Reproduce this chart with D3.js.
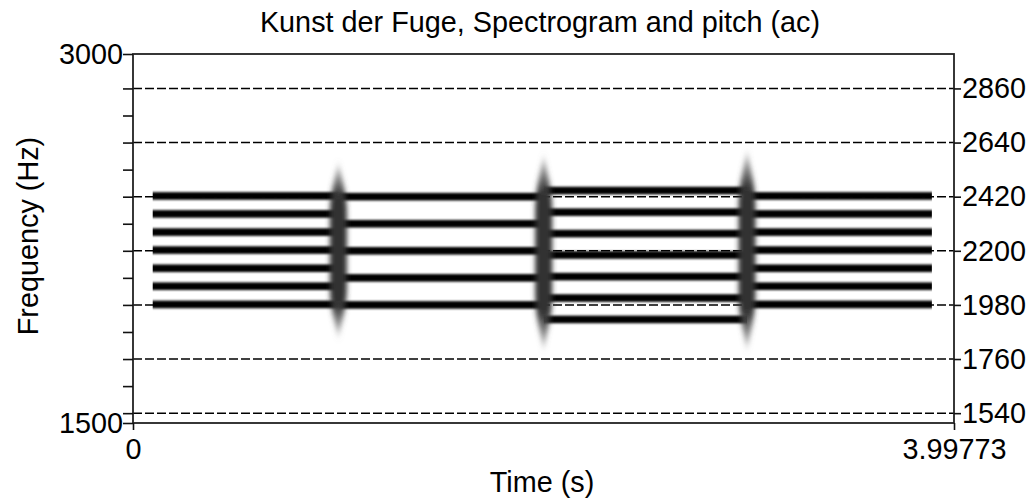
<!DOCTYPE html>
<html><head><meta charset="utf-8">
<script src="https://cdn.jsdelivr.net/npm/d3@7"></script>
<style>body{margin:0;background:#fff}svg{display:block}</style></head>
<body><svg id="c" width="1032" height="504"></svg>
<script>
// ---- data ----
const titleText = "Kunst der Fuge, Spectrogram and pitch (ac)";
const xLabel = "Time (s)";
const yLabel = "Frequency (Hz)";
const timeDomain = [0, 3.99773];
const freqDomain = [1500, 3000];
const segmentStart = [0.096, 1.0, 2.0, 2.99];
const segmentEnd = [1.0, 2.0, 2.99, 3.89];
const segment1Bands = [1982, 2056, 2129, 2203, 2276, 2350, 2423];
const segment2Bands = [1980, 2090, 2200, 2310, 2420];
const segment3Bands = [1921, 2008, 2095, 2183, 2270, 2357, 2445];
const segment4Bands = [1982, 2056, 2129, 2203, 2276, 2350, 2423];
const transitionTimes = [1.0, 2.0, 2.99];
const transitionTop = [2550, 2580, 2600];
const transitionBottom = [1855, 1805, 1805];
const rightTickValues = [1540, 1760, 1980, 2200, 2420, 2640, 2860];
const leftMinorTickValues = [1540, 1650, 1760, 1870, 1980, 2090, 2200, 2310, 2420, 2530, 2640, 2750, 2860];
const leftLabelValues = [1500, 3000];
const bottomTickValues = [0, 3.99773];
const bottomTickLabels = ["0", "3.99773"];

// ---- drawing ----
const svg = d3.select("#c");
const FONT = "'Liberation Sans', Arial, sans-serif";
const FS = 28.8;
const L = 133, R = 954, T = 54, B = 423;
const x = d3.scaleLinear().domain(timeDomain).range([L, R]);
const y = d3.scaleLinear().domain(freqDomain).range([B, T]);

const defs = svg.append("defs");
defs.append("filter").attr("id", "blurBand").attr("x", "-5%").attr("y", "-100%").attr("width", "110%").attr("height", "300%")
  .append("feGaussianBlur").attr("stdDeviation", "0.7 1.0");
defs.append("filter").attr("id", "blurSmear").attr("x", "-200%").attr("y", "-20%").attr("width", "500%").attr("height", "140%")
  .append("feGaussianBlur").attr("stdDeviation", "2.4 5");
const grad = defs.append("linearGradient").attr("id", "smearGrad").attr("x1", 0).attr("y1", 0).attr("x2", 0).attr("y2", 1);
grad.append("stop").attr("offset", "0%").attr("stop-color", "#888").attr("stop-opacity", 0.6);
grad.append("stop").attr("offset", "18%").attr("stop-color", "#333").attr("stop-opacity", 1);
grad.append("stop").attr("offset", "82%").attr("stop-color", "#333").attr("stop-opacity", 1);
grad.append("stop").attr("offset", "100%").attr("stop-color", "#888").attr("stop-opacity", 0.6);

// dashed reference lines
svg.append("g").selectAll("line").data(rightTickValues).join("line")
  .attr("x1", L).attr("x2", R).attr("y1", d => y(d)).attr("y2", d => y(d))
  .attr("stroke", "#000").attr("stroke-width", 1.5).attr("stroke-dasharray", "9,3");

// spectrogram bands
const segBands = [segment1Bands, segment2Bands, segment3Bands, segment4Bands];
const bandData = [];
segBands.forEach((arr, i) => arr.forEach(f => bandData.push({t0: segmentStart[i], t1: segmentEnd[i], f})));
svg.append("g").attr("filter", "url(#blurBand)").selectAll("rect").data(bandData).join("rect")
  .attr("x", d => x(d.t0)).attr("width", d => x(d.t1) - x(d.t0))
  .attr("y", d => y(d.f) - 3.8).attr("height", 7.6).attr("fill", "#000");

// transition smears
const smear = svg.append("g").attr("filter", "url(#blurSmear)");
transitionTimes.forEach((t, i) => {
  const cx = x(t), y0 = y(transitionTop[i]), y1 = y(transitionBottom[i]);
  const h = y1 - y0, w = 8.5;
  const p = d3.path();
  p.moveTo(cx, y0);
  p.bezierCurveTo(cx + 3, y0 + h * 0.08, cx + w, y0 + h * 0.16, cx + w, y0 + h * 0.28);
  p.lineTo(cx + w, y0 + h * 0.72);
  p.bezierCurveTo(cx + w, y0 + h * 0.84, cx + 3, y0 + h * 0.92, cx, y1);
  p.bezierCurveTo(cx - 3, y0 + h * 0.92, cx - w, y0 + h * 0.84, cx - w, y0 + h * 0.72);
  p.lineTo(cx - w, y0 + h * 0.28);
  p.bezierCurveTo(cx - w, y0 + h * 0.16, cx - 3, y0 + h * 0.08, cx, y0);
  p.closePath();
  smear.append("path").attr("d", p.toString()).attr("fill", "url(#smearGrad)");
});

// frame
svg.append("rect").attr("x", L).attr("y", T).attr("width", R - L).attr("height", B - T)
  .attr("fill", "none").attr("stroke", "#222").attr("stroke-width", 1.8);

function styleAxis(g) {
  g.select(".domain").remove();
  g.selectAll("line").attr("stroke", "#111").attr("stroke-width", 1.6);
  g.selectAll("text").attr("font-family", FONT).attr("font-size", FS).attr("fill", "#000");
}
// left minor ticks
svg.append("g").attr("transform", `translate(${L},0)`)
  .call(d3.axisLeft(y).tickValues(leftMinorTickValues).tickSize(10).tickFormat(""))
  .call(styleAxis);
// left labelled ticks
svg.append("g").attr("transform", `translate(${L},0)`)
  .call(d3.axisLeft(y).tickValues(leftLabelValues).tickSize(10).tickPadding(0).tickFormat(d3.format("d")))
  .call(styleAxis);
// right ticks
svg.append("g").attr("transform", `translate(${R},0)`)
  .call(d3.axisRight(y).tickValues(rightTickValues).tickSize(7).tickPadding(1).tickFormat(d3.format("d")))
  .call(styleAxis);
// bottom ticks
svg.append("g").attr("transform", `translate(0,${B})`)
  .call(d3.axisBottom(x).tickValues(bottomTickValues).tickSize(7).tickPadding(9)
    .tickFormat((d, i) => bottomTickLabels[i]))
  .call(styleAxis);

// titles
svg.append("text").attr("x", 540).attr("y", 32).attr("text-anchor", "middle")
  .attr("font-family", FONT).attr("font-size", FS).text(titleText);
svg.append("text").attr("x", 542).attr("y", 492).attr("text-anchor", "middle")
  .attr("font-family", FONT).attr("font-size", FS).text(xLabel);
svg.append("text").attr("transform", "translate(37.5,236) rotate(-90)").attr("text-anchor", "middle")
  .attr("font-family", FONT).attr("font-size", FS).text(yLabel);
</script>
</body></html>
